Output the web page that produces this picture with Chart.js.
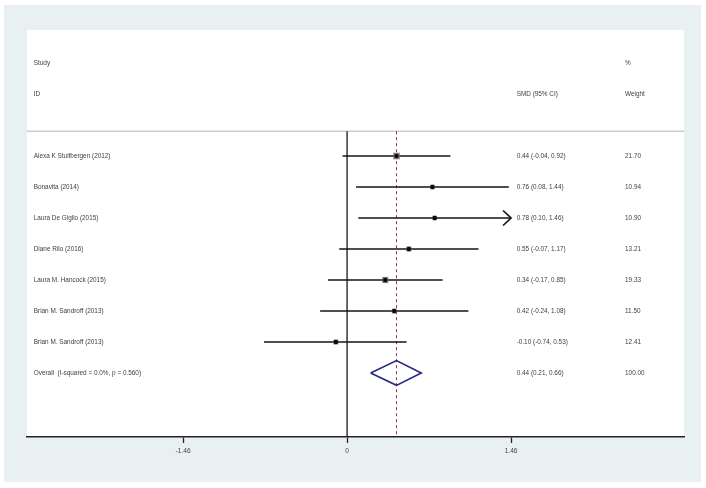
<!DOCTYPE html>
<html>
<head>
<meta charset="utf-8">
<script src="https://cdn.jsdelivr.net/npm/chart.js@4.4.1/dist/chart.umd.min.js"></script>
<style>
  html, body { margin: 0; padding: 0; background: #ffffff; }
</style>
</head>
<body>
<canvas id="forest" width="706" height="488"></canvas>
<script>
//-------------------------- data --------------------------
const studies = [
    "Alexa K Stuifbergen (2012)",
    "Bonavita (2014)",
    "Laura De Giglio (2015)",
    "Diane Rilo (2016)",
    "Laura M. Hancock (2015)",
    "Brian M. Sandroff (2013)",
    "Brian M. Sandroff (2013)",
];
const smd = [0.44, 0.76, 0.78, 0.55, 0.34, 0.42, -0.10];
const ciLow = [-0.04, 0.08, 0.10, -0.07, -0.17, -0.24, -0.74];
const ciHigh = [0.92, 1.44, 1.46, 1.17, 0.85, 1.08, 0.53];
const weights = [21.70, 10.94, 10.90, 13.21, 19.33, 11.50, 12.41];

const overallLabel = "Overall  (I-squared = 0.0%, p = 0.560)";
const overallSmd = 0.44;
const overallCi = [0.21, 0.66];
const overallWeight = 100.00;

const tickValues = [-1.46, 0, 1.46];
const tickLabels = ["-1.46", "0", "1.46"];

//-------------------------- layout helpers --------------------------
const FONT = '"Liberation Sans", Arial, sans-serif';
const overallRow = studies.length;
const headerLineY = -0.8;
const bottomY = 9.065;
const diamondH = 0.4;

function fmt(v) {
    return v.toFixed(2);
}

const ciLineSets = studies.map((s, i) => ({
    type: "line",
    data: [
        { x: ciLow[i], y: i },
        { x: Math.min(ciHigh[i], tickValues[tickValues.length - 1]), y: i },
    ],
    borderColor: "#141414",
    borderWidth: 1.7,
    pointRadius: 0,
    order: 2,
}));

const framePlugin = {
    id: "frame",
    beforeDraw(chart) {
        const { ctx, chartArea } = chart;
        ctx.save();
        ctx.fillStyle = "#ffffff";
        ctx.fillRect(0, 0, chart.width, chart.height);
        ctx.fillStyle = "#e9f0f2";
        ctx.fillRect(4, 5, 697, 477);
        ctx.fillStyle = "#ffffff";
        ctx.fillRect(chartArea.left, chartArea.top, chartArea.right - chartArea.left, chartArea.bottom - chartArea.top);
        ctx.restore();
    },
    beforeDatasetsDraw(chart) {
        const { ctx, chartArea, scales } = chart;
        const y = scales.y.getPixelForValue(headerLineY);
        ctx.save();
        ctx.strokeStyle = "#c8cccd";
        ctx.lineWidth = 1.5;
        ctx.beginPath();
        ctx.moveTo(chartArea.left, y);
        ctx.lineTo(chartArea.right, y);
        ctx.stroke();
        ctx.restore();
    },
    afterDraw(chart) {
        const { ctx, scales } = chart;
        const xs = scales.x;
        const ys = scales.y;
        const colStudy = xs.getPixelForValue(-2.79);
        const colSmd = xs.getPixelForValue(1.51);
        const colWeight = xs.getPixelForValue(2.475);

        ctx.save();
        ctx.fillStyle = "#3e3e3e";
        ctx.font = "6.4px " + FONT;
        ctx.textBaseline = "middle";
        ctx.textAlign = "left";

        ctx.fillText("Study", colStudy, ys.getPixelForValue(-3));
        ctx.fillText("ID", colStudy, ys.getPixelForValue(-2));
        ctx.fillText("SMD (95% CI)", colSmd, ys.getPixelForValue(-2));
        ctx.fillText("%", colWeight, ys.getPixelForValue(-3));
        ctx.fillText("Weight", colWeight, ys.getPixelForValue(-2));

        studies.forEach((name, i) => {
            const y = ys.getPixelForValue(i);
            ctx.fillText(name, colStudy, y);
            ctx.fillText(`${fmt(smd[i])} (${fmt(ciLow[i])}, ${fmt(ciHigh[i])})`, colSmd, y);
            ctx.fillText(fmt(weights[i]), colWeight, y);
        });

        const yo = ys.getPixelForValue(overallRow);
        ctx.fillText(overallLabel, colStudy, yo);
        ctx.fillText(`${fmt(overallSmd)} (${fmt(overallCi[0])}, ${fmt(overallCi[1])})`, colSmd, yo);
        ctx.fillText(fmt(overallWeight), colWeight, yo);

        // arrow where the CI runs past the last tick
        const maxTick = tickValues[tickValues.length - 1];
        ctx.strokeStyle = "#141414";
        ctx.lineWidth = 1.7;
        ciHigh.forEach((hi, i) => {
            if (hi < maxTick) return;
            const x = xs.getPixelForValue(maxTick);
            const y = ys.getPixelForValue(i);
            ctx.beginPath();
            ctx.moveTo(x - 8, y - 7.5);
            ctx.lineTo(x, y);
            ctx.lineTo(x - 8, y + 7.5);
            ctx.stroke();
        });
        ctx.restore();
    },
};

new Chart(document.getElementById("forest"), {
    type: "scatter",
    data: {
        datasets: [
            {
                // centre dots
                data: smd.map((v, i) => ({ x: v, y: i })),
                pointStyle: "circle",
                pointRadius: 2.2,
                backgroundColor: "#0a0a0a",
                borderWidth: 0,
                order: 0,
            },
            {
                // weight boxes
                data: smd.map((v, i) => ({ x: v, y: i })),
                pointStyle: "rect",
                pointRadius: (c) => 1.0 * Math.sqrt(weights[c.dataIndex]),
                backgroundColor: "rgba(110,110,110,0.85)",
                borderWidth: 0,
                order: 1,
            },
            ...ciLineSets,
            {
                // overall diamond
                type: "line",
                data: [
                    { x: overallCi[0], y: overallRow },
                    { x: overallSmd, y: overallRow - diamondH },
                    { x: overallCi[1], y: overallRow },
                    { x: overallSmd, y: overallRow + diamondH },
                    { x: overallCi[0], y: overallRow },
                ],
                borderColor: "#272a7e",
                borderWidth: 1.7,
                pointRadius: 0,
                tension: 0,
                order: 1,
            },
            {
                // null line
                type: "line",
                data: [
                    { x: 0, y: headerLineY },
                    { x: 0, y: bottomY },
                ],
                borderColor: "#1a1a1a",
                borderWidth: 1.3,
                pointRadius: 0,
                order: 3,
            },
            {
                // overall effect line
                type: "line",
                data: [
                    { x: overallSmd, y: headerLineY },
                    { x: overallSmd, y: bottomY },
                ],
                borderColor: "#9b2f45",
                borderWidth: 1,
                borderDash: [3, 3],
                pointRadius: 0,
                order: 3,
            },
        ],
    },
    options: {
        responsive: false,
        animation: false,
        layout: {
            autoPadding: false,
            padding: { left: 27, right: 22, top: 30, bottom: 0 },
        },
        plugins: {
            legend: { display: false },
            tooltip: { enabled: false },
        },
        scales: {
            x: {
                type: "linear",
                position: "bottom",
                min: -2.85,
                max: 3.0,
                afterBuildTicks: (s) => {
                    s.ticks = tickValues.map((v) => ({ value: v }));
                },
                afterFit: (s) => {
                    s.height = 51;
                },
                grid: {
                    drawOnChartArea: false,
                    drawTicks: true,
                    tickLength: 6,
                    tickWidth: 1.3,
                    color: "#222222",
                },
                border: { display: true, color: "#222222", width: 1.5 },
                ticks: {
                    autoSkip: false,
                    maxRotation: 0,
                    padding: 4,
                    color: "#444444",
                    font: { size: 6.6, family: FONT },
                    callback: (v, i) => tickLabels[i],
                },
            },
            y: {
                type: "linear",
                display: false,
                reverse: true,
                min: -4.065,
                max: bottomY,
            },
        },
    },
    plugins: [framePlugin],
});
</script>
</body>
</html>
